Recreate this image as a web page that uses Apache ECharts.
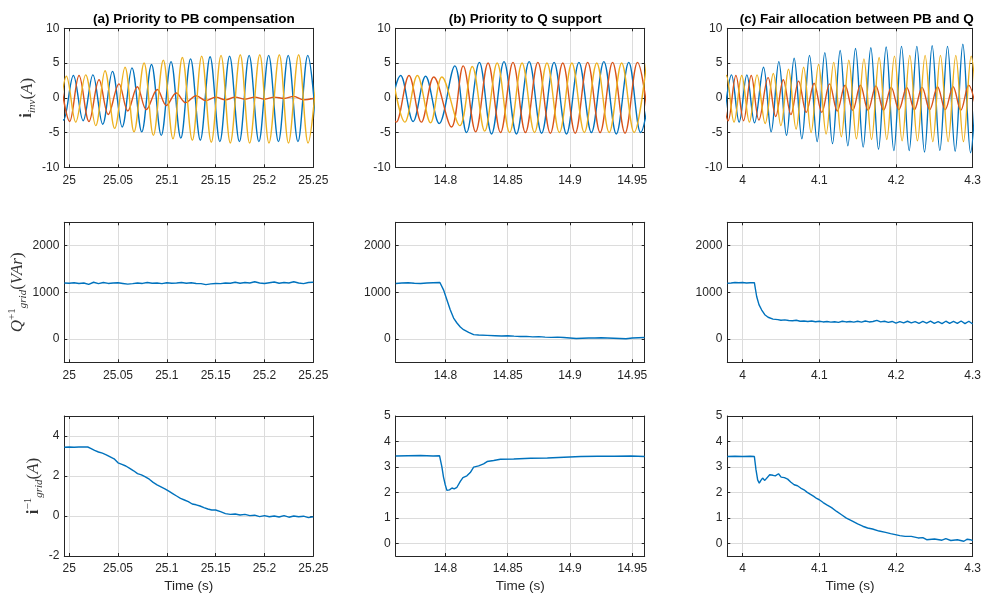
<!DOCTYPE html>
<html><head><meta charset="utf-8">
<script src="https://cdn.jsdelivr.net/npm/echarts@6/dist/echarts.min.js"></script>
<style>html,body{margin:0;padding:0;background:#fff}#c{width:984px;height:594px}</style>
</head><body><div id="c"></div>
<script>
// ---------------- DATA ----------------
const titles = ['(a) Priority to PB compensation', '(b) Priority to Q support', '(c) Fair allocation between PB and Q'];
const xLabelText = 'Time (s)';

const xRangeA = [24.995, 25.25], xTicksA = [25, 25.05, 25.1, 25.15, 25.2, 25.25];
const xRangeB = [14.76, 14.96],  xTicksB = [14.8, 14.85, 14.9, 14.95];
const xRangeC = [3.98, 4.3],     xTicksC = [4, 4.1, 4.2, 4.3];

const yRangeI = [-10, 10],   yTicksI = [-10, -5, 0, 5, 10];
const yRangeQ = [-500, 2500], yTicksQ = [0, 1000, 2000];
const yRangeNegA = [-2, 5],  yTicksNegA = [-2, 0, 2, 4];
const yRangeNegBC = [-0.5, 5], yTicksNegBC = [0, 1, 2, 3, 4, 5];

// Inverter phase currents: [time, value] at each peak / trough
const aBlue = [[24.9843,3.2],[24.9943,-3.2],[25.0043,3.2],[25.0143,-3.3],[25.0243,3.3],[25.0343,-3.8],[25.0443,3.8],[25.0543,-4.2],[25.0643,4.3],[25.0743,-4.9],[25.0843,4.8],[25.0943,-5.4],[25.1043,5.2],[25.1143,-5.8],[25.1243,5.6],[25.1343,-6.1],[25.1443,5.9],[25.1543,-6.3],[25.1643,6.0],[25.1743,-6.3],[25.1843,6.1],[25.1943,-6.3],[25.2043,6.1],[25.2143,-6.3],[25.2243,6.1],[25.2343,-6.3],[25.2443,6.1],[25.2543,-6.3]];
const aOrange = [[24.9905,3.2],[25.0005,-3.4],[25.0101,3.2],[25.0203,-3.4],[25.0306,2.6],[25.0400,-2.4],[25.0510,2.0],[25.0600,-1.9],[25.0698,1.6],[25.0790,-1.7],[25.0903,1.2],[25.0995,-1.1],[25.1097,0.7],[25.1193,-0.7],[25.1300,0.3],[25.1400,-0.4],[25.1500,0.1],[25.1600,-0.3],[25.1700,0.1],[25.1800,-0.2],[25.1900,0.1],[25.2000,-0.2],[25.2100,0.1],[25.2200,-0.1],[25.2300,0.2],[25.2400,-0.3],[25.2500,-0.1]];
const aYellow = [[24.9771,3.2],[24.9871,-3.2],[24.9971,3.1],[25.0067,-3.5],[25.0169,3.3],[25.0272,-4.0],[25.0367,3.9],[25.0466,-4.4],[25.0572,4.4],[25.0664,-4.9],[25.0767,5.0],[25.0862,-5.4],[25.0964,5.4],[25.1063,-5.9],[25.1159,5.8],[25.1261,-6.1],[25.1357,6.0],[25.1455,-6.4],[25.1555,6.1],[25.1650,-6.5],[25.1752,6.2],[25.1848,-6.5],[25.1952,6.2],[25.2046,-6.5],[25.2152,6.2],[25.2246,-6.5],[25.2350,6.2],[25.2446,-6.5],[25.2550,6.2]];

const bBlue = [[14.7540,-3.3],[14.7640,3.2],[14.7740,-3.4],[14.7840,3.1],[14.7949,-3.7],[14.8075,4.6],[14.8169,-5.0],[14.8272,5.1],[14.8370,-5.2],[14.8470,5.2],[14.8570,-5.2],[14.8672,5.2],[14.8772,-5.1],[14.8872,5.1],[14.8972,-5.2],[14.9072,5.1],[14.9172,-5.0],[14.9272,5.2],[14.9372,-5.2],[14.9472,5.1],[14.9567,-5.0],[14.9672,5.1]];
const bOrange = [[14.7507,3.2],[14.7605,-3.5],[14.7707,3.2],[14.7806,-3.5],[14.7906,3.0],[14.8048,-4.2],[14.8142,4.6],[14.8242,-4.9],[14.8342,5.0],[14.8442,-5.0],[14.8542,5.1],[14.8642,-5.0],[14.8742,5.1],[14.8842,-5.1],[14.8942,5.0],[14.9042,-5.1],[14.9142,5.1],[14.9242,-5.0],[14.9342,5.1],[14.9442,-5.1],[14.9542,5.1],[14.9642,-5.0]];
const bYellow = [[14.7574,3.2],[14.7674,-3.5],[14.7774,3.2],[14.7880,-3.6],[14.7971,3.0],[14.8115,-4.0],[14.8215,4.5],[14.8315,-4.8],[14.8415,5.0],[14.8515,-5.0],[14.8615,5.0],[14.8715,-5.0],[14.8815,5.0],[14.8915,-5.0],[14.9015,5.0],[14.9115,-5.0],[14.9215,5.0],[14.9315,-5.0],[14.9415,5.0],[14.9515,-5.0],[14.9615,5.0]];

const cBlue = [[3.9755,-3.4],[3.9855,3.3],[3.9955,-3.5],[4.0055,3.3],[4.0155,-3.6],[4.0272,4.4],[4.0372,-4.9],[4.0472,5.2],[4.0572,-5.4],[4.0672,5.7],[4.0772,-5.9],[4.0872,6.1],[4.0972,-6.3],[4.1072,6.5],[4.1172,-6.6],[4.1272,6.8],[4.1372,-6.9],[4.1472,7.1],[4.1572,-7.1],[4.1672,7.2],[4.1772,-7.4],[4.1872,7.3],[4.1972,-7.6],[4.2072,7.4],[4.2172,-7.6],[4.2272,7.4],[4.2372,-7.8],[4.2472,7.5],[4.2572,-7.6],[4.2672,7.4],[4.2772,-7.7],[4.2872,7.7],[4.2972,-7.9],[4.3072,7.6]];
const cOrange = [[3.9712,3.2],[3.9812,-3.3],[3.9912,3.2],[4.0012,-3.3],[4.0112,3.2],[4.0212,-3.2],[4.0332,2.9],[4.0432,-2.7],[4.0530,2.6],[4.0630,-2.4],[4.0730,2.4],[4.0830,-2.1],[4.0932,2.1],[4.1032,-2.1],[4.1134,2.0],[4.1234,-1.9],[4.1336,1.8],[4.1436,-1.8],[4.1536,1.8],[4.1636,-1.8],[4.1738,1.7],[4.1838,-1.8],[4.1938,1.5],[4.2038,-1.7],[4.2140,1.5],[4.2240,-1.7],[4.2340,1.5],[4.2440,-1.7],[4.2542,1.6],[4.2642,-1.7],[4.2745,1.6],[4.2845,-1.8],[4.2948,1.8],[4.3048,-1.8]];
const cYellow = [[3.9688,-3.5],[3.9788,3.2],[3.9888,-3.5],[3.9988,3.2],[4.0088,-3.5],[4.0188,3.3],[4.0294,-3.7],[4.0400,3.5],[4.0499,-4.0],[4.0598,4.1],[4.0697,-4.5],[4.0795,4.4],[4.0893,-5.0],[4.0990,4.8],[4.1089,-5.2],[4.1188,5.1],[4.1287,-5.6],[4.1385,5.4],[4.1484,-5.9],[4.1582,5.6],[4.1681,-6.0],[4.1780,5.8],[4.1880,-6.0],[4.1980,6.0],[4.2080,-6.2],[4.2180,6.1],[4.2280,-6.2],[4.2380,6.1],[4.2480,-6.3],[4.2580,6.1],[4.2680,-6.3],[4.2780,6.1],[4.2880,-6.3],[4.2980,6.0],[4.3080,-6.3]];

// Positive-sequence reactive power of the grid
const aQStart = 24.995, aQStep = 0.005;
const aQ = [1200,1195,1205,1190,1200,1170,1215,1185,1210,1190,1200,1205,1190,1175,1185,1200,1190,1210,1195,1200,1185,1205,1195,1200,1210,1195,1205,1190,1185,1165,1180,1190,1185,1200,1195,1215,1195,1210,1200,1225,1200,1190,1205,1220,1195,1210,1200,1225,1200,1185,1210,1215];
const bQ = [[14.76,1190],[14.765,1200],[14.77,1205],[14.775,1195],[14.78,1190],[14.785,1200],[14.79,1205],[14.7955,1210],[14.7984,1053],[14.8011,840],[14.8038,626],[14.8065,448],[14.8092,342],[14.8119,256],[14.8145,199],[14.8186,142],[14.8226,93],[14.8266,85],[14.8334,78],[14.84,70],[14.845,62],[14.85,70],[14.855,60],[14.86,52],[14.865,55],[14.87,45],[14.875,50],[14.88,40],[14.885,35],[14.89,40],[14.895,30],[14.9,20],[14.905,10],[14.91,15],[14.915,20],[14.92,20],[14.925,25],[14.93,20],[14.935,15],[14.94,10],[14.945,5],[14.95,20],[14.955,25],[14.96,30]];
const cQ = [[3.98,1195],[3.985,1200],[3.99,1210],[3.995,1205],[4.0,1210],[4.005,1200],[4.01,1205],[4.0153,1205],[4.0183,910],[4.0213,735],[4.0247,625],[4.0289,520],[4.0332,465],[4.0396,425],[4.046,415],[4.05,400],[4.055,410],[4.06,395],[4.065,390],[4.07,400],[4.075,380],[4.08,385],[4.085,375],[4.09,385],[4.095,370],[4.1,380],[4.105,365],[4.11,375],[4.115,360],[4.12,370],[4.125,355],[4.13,380],[4.135,365],[4.14,375],[4.145,360],[4.15,380],[4.155,360],[4.16,385],[4.165,365],[4.17,375],[4.175,400],[4.18,365],[4.185,380],[4.19,355],[4.195,375],[4.2,340],[4.205,370],[4.21,345],[4.215,380],[4.22,345],[4.225,370],[4.23,335],[4.235,375],[4.24,340],[4.245,380],[4.25,335],[4.255,370],[4.26,330],[4.265,380],[4.27,335],[4.275,375],[4.28,335],[4.285,385],[4.29,330],[4.295,380],[4.3,320]];

// Negative-sequence grid current
const aNeg = [[24.995,3.44],[25.0,3.45],[25.005,3.44],[25.01,3.45],[25.015,3.45],[25.019,3.45],[25.022,3.38],[25.026,3.28],[25.03,3.2],[25.034,3.14],[25.038,3.06],[25.042,2.96],[25.046,2.86],[25.05,2.66],[25.054,2.58],[25.058,2.5],[25.062,2.38],[25.066,2.26],[25.07,2.12],[25.074,2.06],[25.078,1.96],[25.082,1.84],[25.086,1.68],[25.09,1.56],[25.094,1.46],[25.098,1.36],[25.102,1.24],[25.106,1.12],[25.11,1.0],[25.114,0.88],[25.118,0.8],[25.122,0.72],[25.126,0.6],[25.13,0.56],[25.134,0.5],[25.138,0.42],[25.142,0.35],[25.146,0.3],[25.15,0.3],[25.155,0.22],[25.16,0.12],[25.165,0.08],[25.17,0.1],[25.175,0.05],[25.18,0.08],[25.185,0.02],[25.19,0.04],[25.195,-0.03],[25.2,0.02],[25.205,-0.04],[25.21,0.0],[25.215,-0.05],[25.22,0.02],[25.225,-0.06],[25.23,0.0],[25.235,-0.04],[25.24,-0.01],[25.245,-0.08],[25.25,-0.04]];
const bNeg = [[14.76,3.43],[14.77,3.44],[14.78,3.45],[14.79,3.43],[14.7952,3.44],[14.7971,3.0],[14.7984,2.6],[14.7998,2.3],[14.8011,2.08],[14.8032,2.1],[14.8052,2.17],[14.807,2.14],[14.8092,2.2],[14.8119,2.43],[14.814,2.58],[14.8172,2.65],[14.8199,2.78],[14.8226,2.99],[14.8266,3.04],[14.8306,3.12],[14.8334,3.21],[14.8387,3.25],[14.8441,3.3],[14.8548,3.31],[14.8683,3.34],[14.8818,3.35],[14.8952,3.38],[14.9086,3.41],[14.9221,3.42],[14.9355,3.42],[14.949,3.43],[14.96,3.41]];
const cNeg = [[3.98,3.41],[3.99,3.42],[4.0,3.41],[4.01,3.42],[4.0153,3.41],[4.0174,2.89],[4.0196,2.49],[4.0217,2.36],[4.0238,2.47],[4.026,2.56],[4.0289,2.47],[4.031,2.45],[4.0353,2.69],[4.0396,2.67],[4.0426,2.65],[4.0468,2.73],[4.0502,2.6],[4.0545,2.58],[4.0587,2.52],[4.063,2.4],[4.0672,2.3],[4.0715,2.26],[4.0757,2.17],[4.08,2.1],[4.0843,2.0],[4.0885,1.92],[4.0928,1.84],[4.0965,1.76],[4.1,1.71],[4.105,1.6],[4.1098,1.51],[4.116,1.4],[4.1226,1.25],[4.129,1.12],[4.1353,0.99],[4.1438,0.86],[4.15,0.76],[4.1566,0.67],[4.163,0.6],[4.1694,0.56],[4.178,0.48],[4.1864,0.43],[4.193,0.38],[4.1991,0.34],[4.205,0.3],[4.2119,0.27],[4.22,0.27],[4.2289,0.21],[4.235,0.22],[4.24,0.14],[4.2502,0.17],[4.26,0.12],[4.265,0.18],[4.2715,0.11],[4.28,0.14],[4.2885,0.08],[4.293,0.16],[4.297,0.14],[4.3,0.1]];

// ---------------- STYLE / LAYOUT ----------------
const COL = { blue: '#0072BD', orange: '#D95319', yellow: '#EDB120' };
const AX = '#262626', GRID = '#dcdcdc';
const SANS = "'Liberation Sans', Arial, Helvetica, sans-serif";
const SERIF = "'Liberation Serif', 'DejaVu Serif', serif";
const colLeft = [64.3, 395.7, 727.3], colW = 249;
const rowTop = [28.3, 222.3, 416], rowH = [139, 140, 140];

const fmt = v => String(Math.round(v * 1000) / 1000);
const qPairs = aQ.map((v, i) => [aQStart + i * aQStep, v]);

const yNames = [
  { text: '{b|i}{sub|inv}{n|(}{it|A}{n|)}', gap: 23 },
  { text: '{it|Q}{sup|+1}{sub|grid}{n|(}{it|VAr}{n|)}', gap: 33 },
  { text: '{b|i}{sup|−1}{sub|grid}{n|(}{it|A}{n|)}', gap: 18 }
];
const nameRich = {
  n:   { fontFamily: SERIF, fontSize: 17, lineHeight: 22, color: '#333' },
  it:  { fontFamily: SERIF, fontSize: 17, lineHeight: 22, fontStyle: 'italic', color: '#333' },
  b:   { fontFamily: SERIF, fontSize: 17, lineHeight: 22, fontWeight: 'bold', color: '#333' },
  sub: { fontFamily: SERIF, fontSize: 11, lineHeight: 12, fontStyle: 'italic', verticalAlign: 'bottom', color: '#333' },
  sup: { fontFamily: SERIF, fontSize: 11, lineHeight: 12, verticalAlign: 'top', color: '#333' }
};

const xCfg = [ [xRangeA, xTicksA], [xRangeB, xTicksB], [xRangeC, xTicksC] ];
const yCfg = [
  [[yRangeI, yTicksI], [yRangeI, yTicksI], [yRangeI, yTicksI]],
  [[yRangeQ, yTicksQ], [yRangeQ, yTicksQ], [yRangeQ, yTicksQ]],
  [[yRangeNegA, yTicksNegA], [yRangeNegBC, yTicksNegBC], [yRangeNegBC, yTicksNegBC]]
];
const seriesCfg = [
  [[[aBlue, 'blue'], [aOrange, 'orange'], [aYellow, 'yellow']],
   [[bBlue, 'blue'], [bOrange, 'orange'], [bYellow, 'yellow']],
   [[cBlue, 'blue'], [cOrange, 'orange'], [cYellow, 'yellow']]],
  [[[qPairs, 'blue']], [[bQ, 'blue']], [[cQ, 'blue']]],
  [[[aNeg, 'blue']], [[bNeg, 'blue']], [[cNeg, 'blue']]]
];

const grid = [], xAxis = [], yAxis = [], series = [], title = [];
for (let c = 0; c < 3; c++) {
  title.push({
    text: titles[c], left: colLeft[c] + colW / 2, top: 7, textAlign: 'center',
    textStyle: { fontFamily: SANS, fontSize: 13.5, fontWeight: 'bold', color: '#000' }
  });
}
for (let r = 0; r < 3; r++) {
  for (let c = 0; c < 3; c++) {
    const g = r * 3 + c;
    grid.push({ left: colLeft[c], top: rowTop[r], width: colW, height: rowH[r], containLabel: false });
    const [xr, xt] = xCfg[c];
    const [yr, yt] = yCfg[r][c];
    const baseLine = { show: true, onZero: false, lineStyle: { color: AX, width: 1 } };
    const tick = (vals) => ({ show: true, inside: true, length: 3, customValues: vals, lineStyle: { color: AX } });
    xAxis.push({
      type: 'value', gridIndex: g, position: 'bottom', min: xr[0], max: xr[1],
      axisLine: baseLine, axisTick: tick(xt),
      axisLabel: { customValues: xt, formatter: fmt, color: AX, fontFamily: SANS, fontSize: 12, margin: 7 },
      splitLine: { show: true, lineStyle: { color: GRID, width: 1 } },
      name: r === 2 ? xLabelText : '', nameLocation: 'middle', nameGap: 23,
      nameTextStyle: { fontFamily: SANS, fontSize: 13.5, color: AX }
    });
    xAxis.push({
      type: 'value', gridIndex: g, position: 'top', min: xr[0], max: xr[1],
      axisLine: baseLine, axisTick: tick(xt), axisLabel: { show: false, customValues: xt },
      splitLine: { show: false }
    });
    const yl = {
      type: 'value', gridIndex: g, position: 'left', min: yr[0], max: yr[1],
      axisLine: baseLine, axisTick: tick(yt),
      axisLabel: { customValues: yt, formatter: fmt, color: AX, fontFamily: SANS, fontSize: 12, margin: 5 },
      splitLine: { show: true, lineStyle: { color: GRID, width: 1 } }
    };
    if (c === 0) {
      yl.name = yNames[r].text; yl.nameLocation = 'middle'; yl.nameGap = yNames[r].gap;
      yl.nameTextStyle = { rich: nameRich };
    }
    yAxis.push(yl);
    yAxis.push({
      type: 'value', gridIndex: g, position: 'right', min: yr[0], max: yr[1],
      axisLine: baseLine, axisTick: tick(yt), axisLabel: { show: false, customValues: yt },
      splitLine: { show: false }
    });
    seriesCfg[r][c].forEach(([data, col]) => {
      series.push({
        type: 'line', xAxisIndex: 2 * g, yAxisIndex: 2 * g, data: data,
        showSymbol: false, symbol: 'none', smooth: r === 0 ? 0.36 : false, clip: true,
        lineStyle: { color: COL[col], width: 1.4 }, silent: true, animation: false
      });
    });
  }
}

const chart = echarts.init(document.getElementById('c'), null, { renderer: 'canvas' });
chart.setOption({ backgroundColor: '#fff', animation: false, title, grid, xAxis, yAxis, series });
</script></body></html>
